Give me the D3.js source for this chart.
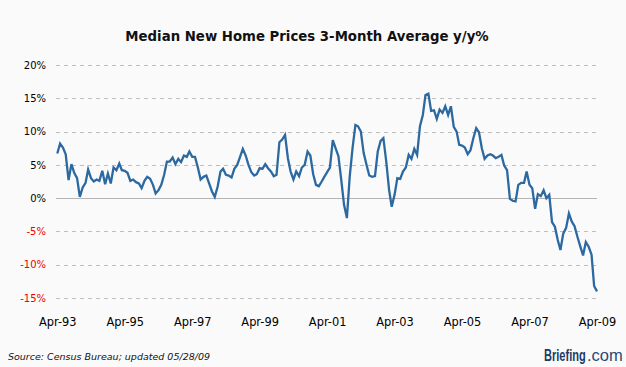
<!DOCTYPE html>
<html><head><meta charset="utf-8">
<script src="https://cdn.jsdelivr.net/npm/d3@7"></script>
<style>
html,body{margin:0;padding:0;background:#fafafa;}
svg{display:block;}
</style></head>
<body>
<svg id="chart" width="626" height="367"></svg>
<script>
const title = "Median New Home Prices 3-Month Average y/y%";
const startMonth = "1993-04";
const values = [
 6.7, 8.2, 7.6, 6.6, 2.7, 5.1, 3.8, 3.0, 0.2, 1.6,
 2.3, 4.3, 3.0, 2.5, 2.8, 2.6, 4.1, 2.1, 3.7, 2.2,
 4.6, 4.2, 5.2, 4.2, 4.1, 3.8, 2.6, 2.8, 2.4, 2.2,
 1.5, 2.6, 3.2, 2.9, 2.0, 0.7, 1.2, 2.0, 3.5, 5.5,
 5.5, 6.1, 5.1, 5.9, 5.4, 6.4, 6.2, 7.0, 6.2, 6.2,
 4.6, 2.8, 3.2, 3.4, 2.2, 1.0, 0.2, 1.7, 4.0, 4.4,
 3.5, 3.4, 3.1, 4.4, 5.0, 6.2, 7.4, 6.4, 5.0, 3.9,
 3.4, 3.6, 4.5, 4.4, 5.1, 4.5, 4.0, 3.3, 3.5, 8.4,
 8.8, 9.5, 6.0, 4.0, 2.8, 4.0, 3.3, 4.6, 5.0, 7.0,
 6.4, 3.6, 2.0, 1.8, 2.5, 3.2, 3.9, 4.6, 8.7, 7.5,
 6.3, 2.7, -1.0, -3.0, 3.2, 7.5, 11.0, 10.8, 10.0, 6.8,
 5.0, 3.4, 3.2, 3.3, 7.0, 8.6, 9.0, 5.5, 1.2, -1.3,
 0.5, 3.0, 2.9, 4.0, 4.6, 6.5, 5.9, 7.4, 6.5, 10.8,
 12.5, 15.5, 15.7, 13.1, 13.2, 11.9, 13.3, 12.8, 13.8, 12.5,
 13.8, 10.7, 10.0, 8.0, 7.9, 7.6, 6.6, 7.2, 9.0, 10.5,
 9.9, 7.5, 5.9, 6.4, 6.6, 6.4, 6.0, 6.2, 6.5, 4.9,
 4.2, -0.1, -0.4, -0.5, 2.0, 2.3, 2.3, 4.0, 2.0, 1.5,
 -1.6, 0.6, 0.3, 1.2, 0.0, 0.5, -3.6, -4.3, -6.3, -7.8,
 -5.3, -4.5, -2.3, -3.5, -4.2, -5.8, -7.2, -8.6, -6.6, -7.3,
 -8.5, -13.2, -14.0
];
const yTicks = [20, 15, 10, 5, 0, -5, -10, -15];
const xTickLabels = ["Apr-93","Apr-95","Apr-97","Apr-99","Apr-01","Apr-03","Apr-05","Apr-07","Apr-09"];
const sourceText = "Source: Census Bureau; updated 05/28/09";
const brandBold = "Briefing";
const brandLight = ".com";

const parseMonth = d3.timeParse("%Y-%m");
const start = parseMonth(startMonth);
const data = values.map((v, i) => ({date: d3.timeMonth.offset(start, i), value: v}));
const xTickDates = xTickLabels.map(s => d3.timeParse("%b-%y")(s));

const svg = d3.select("#chart");
svg.append("rect").attr("width", 626).attr("height", 367).attr("fill", "#fafafa");

const x = d3.scaleTime().domain([data[0].date, data[data.length - 1].date]).range([57.3, 597]);
const y = d3.scaleLinear().domain([-15, 20]).range([298, 65]);
const gridX0 = 56, gridX1 = 597;

// title
svg.append("text").attr("x", 307).attr("y", 41).attr("text-anchor", "middle")
  .attr("font-family", "DejaVu Sans, Verdana, sans-serif").attr("font-weight", "bold")
  .attr("font-size", 13.3).attr("fill", "#111").text(title);

// gridlines
svg.append("g").selectAll("line").data(yTicks).join("line")
  .attr("x1", gridX0).attr("x2", gridX1)
  .attr("y1", d => Math.round(y(d)) + 0.5).attr("y2", d => Math.round(y(d)) + 0.5)
  .attr("stroke", d => d === 0 ? "#b4b4b4" : "#bdbdbd")
  .attr("stroke-width", 1)
  .attr("stroke-dasharray", d => d === 0 ? null : "4,4");

// y axis labels
const yAxis = d3.axisLeft(y).tickValues(yTicks).tickSize(0).tickPadding(0).tickFormat(d => d + "%");
const yg = svg.append("g").attr("transform", "translate(46,0)").call(yAxis);
yg.select(".domain").remove();
yg.selectAll("text").attr("font-family", "DejaVu Sans, Verdana, sans-serif").attr("font-size", 10)
  .attr("fill", d => d < 0 ? "#ee0000" : "#000");

// x axis labels
const xAxis = d3.axisBottom(x).tickValues(xTickDates).tickSize(0).tickPadding(0).tickFormat(d3.timeFormat("%b-%y"));
const xg = svg.append("g").attr("transform", "translate(0,318)").call(xAxis);
xg.select(".domain").remove();
xg.selectAll("text").attr("font-family", "DejaVu Sans, Verdana, sans-serif").attr("font-size", 11.4)
  .attr("fill", "#000");

// line
const line = d3.line().x(d => x(d.date)).y(d => y(d.value));
svg.append("path").datum(data).attr("d", line).attr("fill", "none")
  .attr("stroke", "#2c69a0").attr("stroke-width", 2.3).attr("stroke-linejoin", "miter");

// footer
svg.append("text").attr("x", 8).attr("y", 360)
  .attr("font-family", "DejaVu Sans, Verdana, sans-serif").attr("font-style", "italic")
  .attr("font-size", 9.5).attr("fill", "#111").text(sourceText);

svg.append("text").attr("transform", "translate(544,361) scale(0.65,1)")
  .attr("font-family", "Liberation Sans, Arial, sans-serif").attr("font-weight", "bold")
  .attr("font-size", 17).attr("fill", "#1d3b66").text(brandBold);
svg.append("text").attr("x", 587).attr("y", 361)
  .attr("font-family", "Liberation Sans, Arial, sans-serif")
  .attr("font-size", 16.5).attr("fill", "#2b4a75").text(brandLight);
</script>
</body></html>
